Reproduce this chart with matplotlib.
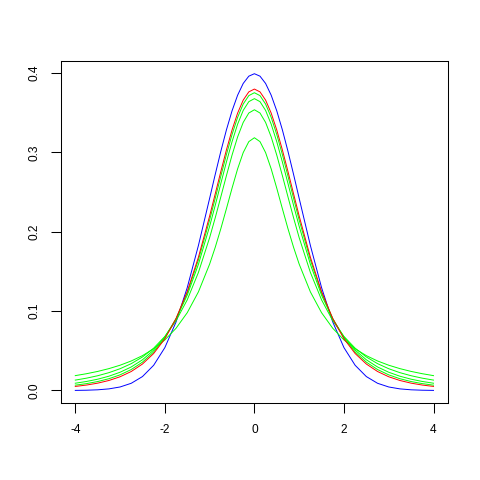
import numpy as np
import matplotlib
matplotlib.use("Agg")
import matplotlib.pyplot as plt

# x grid and density values
x = [-4.0, -3.75, -3.5, -3.25, -3.0, -2.75, -2.5, -2.25, -2.0, -1.75, -1.5,
     -1.25, -1.0, -0.875, -0.75, -0.625, -0.5, -0.375, -0.25, -0.125, 0.0,
     0.125, 0.25, 0.375, 0.5, 0.625, 0.75, 0.875, 1.0, 1.25, 1.5,
     1.75, 2.0, 2.25, 2.5, 2.75, 3.0, 3.25, 3.5, 3.75, 4.0]

normal = [0.00013, 0.00035, 0.00087, 0.00203, 0.00443, 0.00909, 0.01753,
          0.03174, 0.05399, 0.08628, 0.12952, 0.18265, 0.24197, 0.27205,
          0.30114, 0.32816, 0.35207, 0.37185, 0.38667, 0.39584, 0.39894,
          0.39584, 0.38667, 0.37185, 0.35207, 0.32816, 0.30114, 0.27205,
          0.24197, 0.18265, 0.12952, 0.08628, 0.05399, 0.03174, 0.01753,
          0.00909, 0.00443, 0.00203, 0.00087, 0.00035, 0.00013]

t1 = [0.01872, 0.02113, 0.02402, 0.02753, 0.03183, 0.03718, 0.04390, 0.05251,
      0.06366, 0.07835, 0.09794, 0.12422, 0.15915, 0.18028, 0.20372, 0.22890,
      0.25465, 0.27906, 0.29959, 0.31341, 0.31831, 0.31341, 0.29959, 0.27906,
      0.25465, 0.22890, 0.20372, 0.18028, 0.15915, 0.12422, 0.09794, 0.07835,
      0.06366, 0.05251, 0.04390, 0.03718, 0.03183, 0.02753, 0.02402, 0.02113,
      0.01872]

t2 = [0.01309, 0.01553, 0.01859, 0.02246, 0.02741, 0.03382, 0.04220, 0.05328,
      0.06804, 0.08779, 0.11413, 0.14872, 0.19245, 0.21743, 0.24378, 0.27054,
      0.29630, 0.31929, 0.33760, 0.34945, 0.35355, 0.34945, 0.33760, 0.31929,
      0.29630, 0.27054, 0.24378, 0.21743, 0.19245, 0.14872, 0.11413, 0.08779,
      0.06804, 0.05328, 0.04220, 0.03382, 0.02741, 0.02246, 0.01859, 0.01553,
      0.01309]

t3 = [0.00916, 0.01136, 0.01422, 0.01798, 0.02297, 0.02965, 0.03866, 0.05089,
      0.06751, 0.09000, 0.12002, 0.15891, 0.20675, 0.23312, 0.26065, 0.28774,
      0.31318, 0.33537, 0.35270, 0.36375, 0.36755, 0.36375, 0.35270, 0.33537,
      0.31318, 0.28774, 0.26065, 0.23312, 0.20675, 0.15891, 0.12002, 0.09000,
      0.06751, 0.05089, 0.03866, 0.02965, 0.02297, 0.01798, 0.01422, 0.01136,
      0.00916]

t4 = [0.00671, 0.00865, 0.01127, 0.01483, 0.01969, 0.02640, 0.03568, 0.04853,
      0.06629, 0.09053, 0.12288, 0.16445, 0.21466, 0.24203, 0.26988, 0.29708,
      0.32226, 0.34397, 0.36074, 0.37136, 0.37500, 0.37136, 0.36074, 0.34397,
      0.32226, 0.29708, 0.26988, 0.24203, 0.21466, 0.16445, 0.12288, 0.09053,
      0.06629, 0.04853, 0.03568, 0.02640, 0.01969, 0.01483, 0.01127, 0.00865,
      0.00671]

t5 = [0.00512, 0.00685, 0.00924, 0.01259, 0.01729, 0.02393, 0.03333, 0.04657,
      0.06509, 0.09054, 0.12452, 0.16789, 0.21968, 0.24757, 0.27570, 0.30292,
      0.32792, 0.34930, 0.36572, 0.37607, 0.37961, 0.37607, 0.36572, 0.34930,
      0.32792, 0.30292, 0.27570, 0.24757, 0.21968, 0.16789, 0.12452, 0.09054,
      0.06509, 0.04657, 0.03333, 0.02393, 0.01729, 0.01259, 0.00924, 0.00685,
      0.00512]

x_ticks = [-4, -2, 0, 2, 4]
y_ticks = [0.0, 0.1, 0.2, 0.3, 0.4]

plt.rcParams['font.family'] = ['Liberation Sans', 'DejaVu Sans']

fig = plt.figure(figsize=(4.8, 4.8), dpi=100)
ax = fig.add_axes([0.127, 0.160, 0.806, 0.713])

lw = 0.7
ax.plot(x, normal, color='blue', lw=lw)
for s in [t1, t2, t3, t4]:
    ax.plot(x, s, color='#00ff00', lw=lw)
ax.plot(x, t5, color='red', lw=lw)

ax.set_xlim(-4.32, 4.32)
ax.set_ylim(-0.016, 0.415)
ax.set_xticks(x_ticks)
ax.set_xticklabels([str(v) for v in x_ticks])
ax.set_yticks(y_ticks)
ax.set_yticklabels([f"{v:.1f}" for v in y_ticks], rotation=90, va='center')
ax.tick_params(length=7, width=0.75, labelsize=8.6, pad=8)
for sp in ax.spines.values():
    sp.set_linewidth(0.75)

fig.savefig("out.png", dpi=100)
